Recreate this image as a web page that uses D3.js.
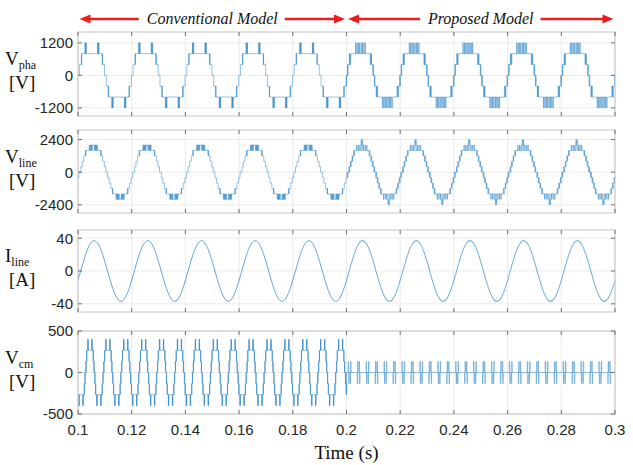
<!DOCTYPE html>
<html>
<head>
<meta charset="utf-8">
<script src="https://cdn.jsdelivr.net/npm/d3@7"></script>
<style>
body{margin:0;background:#fff}
svg{display:block}
</style>
</head>
<body>
<svg></svg>
<script>
// values
const timeRange = [0.1, 0.3]
const xTicks = [0.1, 0.12, 0.14, 0.16, 0.18, 0.2, 0.22, 0.24, 0.26, 0.28, 0.3]
const xTickLabels = ["0.1", "0.12", "0.14", "0.16", "0.18", "0.2", "0.22", "0.24", "0.26", "0.28", "0.3"]
const modelNames = ["Conventional Model", "Proposed Model"]
const modelSpans = [[0.1, 0.2], [0.2, 0.3]]

const labelMain = ["V", "V", "I", "V"]
const labelSub = ["pha", "line", "line", "cm"]
const labelUnit = ["[V]", "[V]", "[A]", "[V]"]
const yDomains = [[-1500, 1600], [-3000, 3100], [-50, 50], [-500, 500]]
const yTicks = [[-1200, 0, 1200], [-2400, 0, 2400], [-40, 0, 40], [-500, 0, 500]]

const period = 0.02          // 50 Hz fundamental
const vphaZero = 0.1002      // rising zero crossing of V_pha
const vlineZero = 0.1007
const ilineZero = 0.1010
const vcmZero = 0.1028       // 150 Hz common mode
const vcmPeriod = 0.02 / 3

// quarter-wave steps [angle deg, level]
const vphaConvQuarter = [[0, 0], [6, 400], [19, 800], [20, 400], [21.5, 800], [43, 1200], [44.5, 800], [47, 1200], [48.5, 800], [51, 1200], [52.5, 800]]
const vphaPropQuarter = [[0, 0], [3, 400], [4.5, 0], [7, 400], [16, 800], [17, 400], [20, 800], [21, 400], [25, 800], [57, 1200], [58.5, 800], [66, 1200], [67.5, 800], [75, 1200], [76.5, 800], [84, 1200], [85.5, 800]]
const vlineConvQuarter = [[0, 0], [6, 400], [16, 800], [27, 1200], [38, 1600], [39, 1200], [40.5, 1600], [63, 2000], [65, 1600], [68, 2000], [70, 1600], [73, 2000], [75.5, 1600], [78, 2000], [81, 1600], [84, 2000]]
const vlinePropQuarter = [[0, 0], [4, 400], [5.5, 0], [9, 400], [14, 800], [15.5, 400], [19, 800], [25, 1200], [26.5, 800], [29, 1200], [36, 1600], [37.5, 1200], [41, 1600], [55, 2000], [56.5, 1600], [66, 2000], [67.5, 1600], [77, 2000], [78.5, 1600], [86, 2400], [87, 2000]]
const vcmConvQuarter = [[0, 0], [7, 133], [9, 0], [11, 133], [22, 267], [24, 133], [26, 267], [45, 400], [48, 267], [52, 400], [55, 267]]

// one 50 Hz cycle of the proposed common mode voltage [angle deg, level]
const vcmPropCycle = [
  [0, 0],
  [8, 133], [11, -133], [14, 0], [21, -133], [24, 133], [27, 0],
  [68, -133], [71, 133], [74, 0], [81, 133], [84, -133], [87, 0],
  [128, 133], [131, -133], [134, 0], [141, -133], [144, 133], [147, 0],
  [188, -133], [191, 133], [194, 0], [201, 133], [204, -133], [207, 0],
  [248, 133], [251, -133], [254, 0], [261, -133], [264, 133], [267, 0],
  [308, -133], [311, 133], [314, 0], [321, 133], [324, -133], [327, 0]
]

// one cycle of line current, conventional (15 deg steps) and proposed (5 deg steps)
const ilineConvCycle = [0, 9.6, 18.5, 26.2, 32.0, 35.7, 37.0, 35.7, 32.0, 26.2, 18.5, 9.6, 0, -9.6, -18.5, -26.2, -32.0, -35.7, -37.0, -35.7, -32.0, -26.2, -18.5, -9.6]
const ilinePropCycle = [0.5, 2.8, 7.1, 9.0, 13.1, 14.9, 19.1, 20.7, 24.3, 25.8, 29.0, 29.7, 32.4, 33.0, 35.5, 35.1, 37.0, 36.3, 37.6, 36.2, 36.9, 35.0, 35.4, 32.9, 32.5, 29.8, 29.0, 25.6, 24.2, 20.7, 19.2, 14.9, 13.1, 9.2, 6.9, 2.7,
  -0.4, -3.7, -5.9, -10.2, -12.3, -16.2, -18.0, -21.8, -23.3, -26.8, -27.7, -30.9, -31.4, -34.1, -34.2, -36.3, -35.8, -37.5, -36.3, -37.4, -35.8, -36.3, -34.2, -34.1, -31.4, -30.9, -27.6, -26.8, -23.2, -21.8, -17.9, -16.2, -12.1, -10.2, -5.8, -3.8]

// layout
const svgWidth = 633
const svgHeight = 465
const plotLeft = 78
const plotRight = 615
const panelTop = [32, 130, 230, 331]
const panelBottom = [116, 213, 312, 414]
const lineColor = "#2a84c8"
const serif = "'Liberation Serif', 'Times New Roman', 'DejaVu Serif', serif"
const sans = "'Liberation Sans', Arial, Helvetica, sans-serif"

const svg = d3.select("svg").attr("width", svgWidth).attr("height", svgHeight)

const xScale = d3.scaleLinear().domain(timeRange).range([plotLeft, plotRight])

// quarter wave -> full cycle list of [angle, level]
function fullCycle(quarter) {
  const segs = quarter.map((d, i) => [d[0], i + 1 < quarter.length ? quarter[i + 1][0] : 90, d[1]])
  const half = segs.concat(segs.slice().reverse().map(s => [180 - s[1], 180 - s[0], s[2]]))
  const full = half.concat(half.map(s => [s[0] + 180, s[1] + 180, -s[2]]))
  return full.map(s => [s[0], s[2]])
}

// repeat a cycle over [from, to] and return step points
function stepPoints(cycle, zero, per, from, to) {
  const ev = []
  const k0 = Math.floor((from - zero) / per) - 1
  const k1 = Math.ceil((to - zero) / per) + 1
  for (let k = k0; k <= k1; k++) {
    cycle.forEach(d => ev.push([zero + (k + d[0] / 360) * per, d[1]]))
  }
  ev.sort((a, b) => a[0] - b[0])
  let level = 0
  ev.forEach(e => { if (e[0] <= from) level = e[1] })
  const pts = [[from, level]]
  ev.filter(e => e[0] > from && e[0] < to).forEach(e => {
    pts.push([e[0], level])
    pts.push([e[0], e[1]])
    level = e[1]
  })
  pts.push([to, level])
  return pts
}

function samplePoints(values, zero, per, from, to) {
  const pts = []
  const n = values.length
  const k0 = Math.floor((from - zero) / per) - 1
  const k1 = Math.ceil((to - zero) / per) + 1
  for (let k = k0; k <= k1; k++) {
    values.forEach((v, i) => {
      const t = zero + (k + i / n) * per
      if (t >= from - per / n && t <= to + per / n) pts.push([t, v])
    })
  }
  return pts
}

const series = [
  stepPoints(fullCycle(vphaConvQuarter), vphaZero, period, 0.1, 0.2)
    .concat(stepPoints(fullCycle(vphaPropQuarter), vphaZero, period, 0.2, 0.3)),
  stepPoints(fullCycle(vlineConvQuarter), vlineZero, period, 0.1, 0.2)
    .concat(stepPoints(fullCycle(vlinePropQuarter), vlineZero, period, 0.2, 0.3)),
  samplePoints(ilineConvCycle, ilineZero, period, 0.1, 0.2).filter(d => d[0] <= 0.2)
    .concat(samplePoints(ilinePropCycle, ilineZero, period, 0.2, 0.3).filter(d => d[0] > 0.2)),
  stepPoints(fullCycle(vcmConvQuarter), vcmZero, vcmPeriod, 0.1, 0.2)
    .concat(stepPoints(vcmPropCycle, vphaZero, period, 0.2, 0.3))
]

const defs = svg.append("defs")

panelTop.forEach((top, p) => {
  const bottom = panelBottom[p]
  const yScale = d3.scaleLinear().domain(yDomains[p]).range([bottom, top])
  const g = svg.append("g")

  defs.append("clipPath").attr("id", "clip" + p)
    .append("rect").attr("x", plotLeft).attr("y", top)
    .attr("width", plotRight - plotLeft).attr("height", bottom - top)

  // grid
  g.selectAll(".vg").data(xTicks).enter().append("line")
    .attr("x1", d => xScale(d)).attr("x2", d => xScale(d))
    .attr("y1", top).attr("y2", bottom)
    .attr("stroke", "#ebebeb").attr("stroke-width", 1)
  g.selectAll(".hg").data(yTicks[p]).enter().append("line")
    .attr("x1", plotLeft).attr("x2", plotRight)
    .attr("y1", d => yScale(d)).attr("y2", d => yScale(d))
    .attr("stroke", "#ebebeb").attr("stroke-width", 1)

  // data
  const line = d3.line().x(d => xScale(d[0])).y(d => yScale(d[1]))
  if (p === 2) line.curve(d3.curveCatmullRom)
  g.append("path")
    .datum(series[p])
    .attr("clip-path", "url(#clip" + p + ")")
    .attr("d", line)
    .attr("fill", "none")
    .attr("stroke", lineColor)
    .attr("stroke-width", p === 2 ? 0.8 : 0.55)
    .attr("stroke-opacity", 0.9)

  // box and inward ticks
  g.append("rect").attr("x", plotLeft).attr("y", top)
    .attr("width", plotRight - plotLeft).attr("height", bottom - top)
    .attr("fill", "none").attr("stroke", "#c4c4c4").attr("stroke-width", 1)
  g.selectAll(".xt").data(xTicks).enter().append("path")
    .attr("d", d => `M${xScale(d)},${top}v4M${xScale(d)},${bottom}v-4`)
    .attr("stroke", "#707070").attr("stroke-width", 1)
  g.selectAll(".yt").data(yTicks[p]).enter().append("path")
    .attr("d", d => `M${plotLeft},${yScale(d)}h4M${plotRight},${yScale(d)}h-4`)
    .attr("stroke", "#707070").attr("stroke-width", 1)

  // y tick labels
  g.selectAll(".yl").data(yTicks[p]).enter().append("text")
    .attr("x", plotLeft - 5).attr("y", d => yScale(d)).attr("dy", "0.36em")
    .attr("text-anchor", "end")
    .style("font-family", sans)
    .style("font-size", "15px").attr("fill", "#262626")
    .text(d => d)

  // y axis label
  const mid = (top + bottom) / 2
  const lab = g.append("text").attr("x", 5).attr("y", mid - 9)
    .style("font-family", serif)
    .style("font-size", "19px").attr("fill", "#111")
  lab.append("tspan").text(labelMain[p])
  lab.append("tspan").attr("dy", 4).style("font-size", "12px").text(labelSub[p])
  g.append("text").attr("x", 9).attr("y", mid + 15)
    .style("font-family", serif)
    .style("font-size", "19px").attr("fill", "#111")
    .text(labelUnit[p])

  if (p === panelTop.length - 1) {
    g.selectAll(".xl").data(xTicks).enter().append("text")
      .attr("x", d => xScale(d)).attr("y", bottom + 21)
      .attr("text-anchor", "middle")
      .style("font-family", sans)
      .style("font-size", "15px").attr("fill", "#262626")
      .text((d, i) => xTickLabels[i])
    g.append("text").attr("x", (plotLeft + plotRight) / 2).attr("y", bottom + 45)
      .attr("text-anchor", "middle")
      .style("font-family", serif)
      .style("font-size", "19px").attr("fill", "#111")
      .text("Time (s)")
  }
})

// model headers with red arrows
const arrowY = 19
const red = "#ee1c1c"
modelSpans.forEach((span, i) => {
  const x0 = xScale(span[0]) + 1.5
  const x1 = xScale(span[1]) - 1.5
  const cx = (x0 + x1) / 2
  const t = svg.append("text").attr("x", cx).attr("y", arrowY + 5)
    .attr("text-anchor", "middle")
    .style("font-family", serif)
    .style("font-style", "italic").style("font-size", "16px").attr("fill", "#111")
    .text(modelNames[i])
  const w = t.node().getComputedTextLength()
  const a = cx - w / 2 - 8
  const b = cx + w / 2 + 7
  svg.append("line").attr("x1", x0 + 9).attr("x2", a).attr("y1", arrowY).attr("y2", arrowY)
    .attr("stroke", red).attr("stroke-width", 2.4)
  svg.append("line").attr("x1", b).attr("x2", x1 - 9).attr("y1", arrowY).attr("y2", arrowY)
    .attr("stroke", red).attr("stroke-width", 2.4)
  svg.append("path").attr("d", `M${x0},${arrowY}L${x0 + 11},${arrowY - 4.5}L${x0 + 11},${arrowY + 4.5}Z`).attr("fill", red)
  svg.append("path").attr("d", `M${x1},${arrowY}L${x1 - 11},${arrowY - 4.5}L${x1 - 11},${arrowY + 4.5}Z`).attr("fill", red)
})
</script>
</body>
</html>
